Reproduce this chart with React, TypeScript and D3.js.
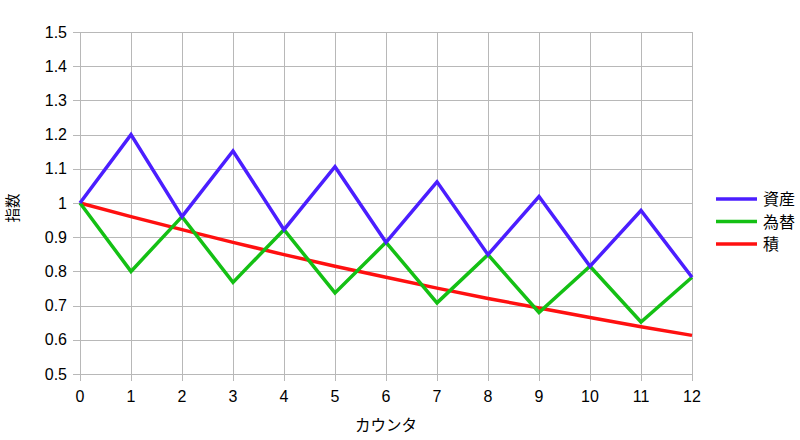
import React, { useRef, useEffect } from 'react';
import * as d3 from 'd3';

// counter 0..12
const counters = [0, 1, 2, 3, 4, 5, 6, 7, 8, 9, 10, 11, 12];
const assetValues = [1, 1.2, 0.96, 1.152, 0.922, 1.106, 0.885, 1.062, 0.849, 1.019, 0.815, 0.978, 0.783];
const fxValues = [1, 0.8, 0.96, 0.768, 0.922, 0.737, 0.885, 0.708, 0.849, 0.68, 0.815, 0.652, 0.783];
const productValues = [1, 0.96, 0.922, 0.885, 0.849, 0.815, 0.783, 0.751, 0.721, 0.693, 0.665, 0.638, 0.613];
const yTicks = [0.5, 0.6, 0.7, 0.8, 0.9, 1, 1.1, 1.2, 1.3, 1.4, 1.5];
const seriesNames = ['資産', '為替', '積'];
const seriesColors = ['#4b1eff', '#14c014', '#ff1010'];

const fontFamily = '"Liberation Sans", Arial, sans-serif';
const cjkFont = '"Noto Sans CJK JP", sans-serif';

const App: React.FC = () => {
    const svgRef = useRef<SVGSVGElement | null>(null);

    useEffect(() => {
        if (!svgRef.current) return;
        const svg = d3.select(svgRef.current);
        svg.selectAll('*').remove();

        const margin = { top: 32, right: 108, bottom: 66, left: 80 };
        const width = 800;
        const height = 440;
        const innerWidth = width - margin.left - margin.right;
        const innerHeight = height - margin.top - margin.bottom;

        const x = d3.scaleLinear().domain([0, 12]).range([0, innerWidth]);
        const y = d3.scaleLinear().domain([0.5, 1.5]).range([innerHeight, 0]);

        const g = svg
            .append('g')
            .attr('transform', `translate(${margin.left},${margin.top})`);

        // grid
        g.append('g')
            .selectAll('line')
            .data(yTicks)
            .enter()
            .append('line')
            .attr('x1', -7)
            .attr('x2', innerWidth)
            .attr('y1', (d) => Math.round(y(d)) + 0.5)
            .attr('y2', (d) => Math.round(y(d)) + 0.5)
            .attr('stroke', '#b8b8b8')
            .attr('stroke-width', 1);

        g.append('g')
            .selectAll('line')
            .data(counters)
            .enter()
            .append('line')
            .attr('x1', (d) => Math.round(x(d)) + 0.5)
            .attr('x2', (d) => Math.round(x(d)) + 0.5)
            .attr('y1', 0)
            .attr('y2', innerHeight + 7)
            .attr('stroke', '#b8b8b8')
            .attr('stroke-width', 1);

        // tick labels
        g.append('g')
            .selectAll('text')
            .data(yTicks)
            .enter()
            .append('text')
            .attr('x', -13)
            .attr('y', (d) => y(d) + 5.5)
            .attr('text-anchor', 'end')
            .attr('font-family', fontFamily)
            .attr('font-size', 16)
            .attr('fill', '#000')
            .text((d) => String(d));

        g.append('g')
            .selectAll('text')
            .data(counters)
            .enter()
            .append('text')
            .attr('x', (d) => x(d))
            .attr('y', innerHeight + 28)
            .attr('text-anchor', 'middle')
            .attr('font-family', fontFamily)
            .attr('font-size', 16)
            .attr('fill', '#000')
            .text((d) => String(d));

        // axis titles
        svg.append('text')
            .attr('x', margin.left + innerWidth / 2)
            .attr('y', 431)
            .attr('text-anchor', 'middle')
            .attr('font-family', cjkFont)
            .attr('font-size', 15.5)
            .attr('fill', '#000')
            .text('カウンタ');

        svg.append('text')
            .attr('transform', 'translate(18,208) rotate(-90)')
            .attr('text-anchor', 'middle')
            .attr('font-family', cjkFont)
            .attr('font-size', 14.5)
            .attr('fill', '#000')
            .text('指数');

        // lines
        const line = d3
            .line<number>()
            .x((_, i) => x(counters[i]))
            .y((d) => y(d));

        [productValues, fxValues, assetValues].forEach((vals, k) => {
            const idx = 2 - k;
            g.append('path')
                .datum(vals)
                .attr('fill', 'none')
                .attr('stroke', seriesColors[idx])
                .attr('stroke-width', 3.5)
                .attr('stroke-linejoin', 'miter')
                .attr('d', line);
        });

        // legend
        const legend = svg.append('g').attr('transform', 'translate(716,199)');
        seriesNames.forEach((name, i) => {
            const row = legend.append('g').attr('transform', `translate(0,${i * 22.5})`);
            row.append('line')
                .attr('x1', 0)
                .attr('x2', 41)
                .attr('y1', 0)
                .attr('y2', 0)
                .attr('stroke', seriesColors[i])
                .attr('stroke-width', 3.5);
            row.append('text')
                .attr('x', 47)
                .attr('y', 6)
                .attr('font-family', cjkFont)
                .attr('font-size', 16)
                .attr('fill', '#000')
                .text(name);
        });
    }, []);

    return (
        <svg
            ref={svgRef}
            width={800}
            height={440}
            style={{ position: 'absolute', left: 0, top: 0, background: '#fff' }}
        ></svg>
    );
};

export default App;
